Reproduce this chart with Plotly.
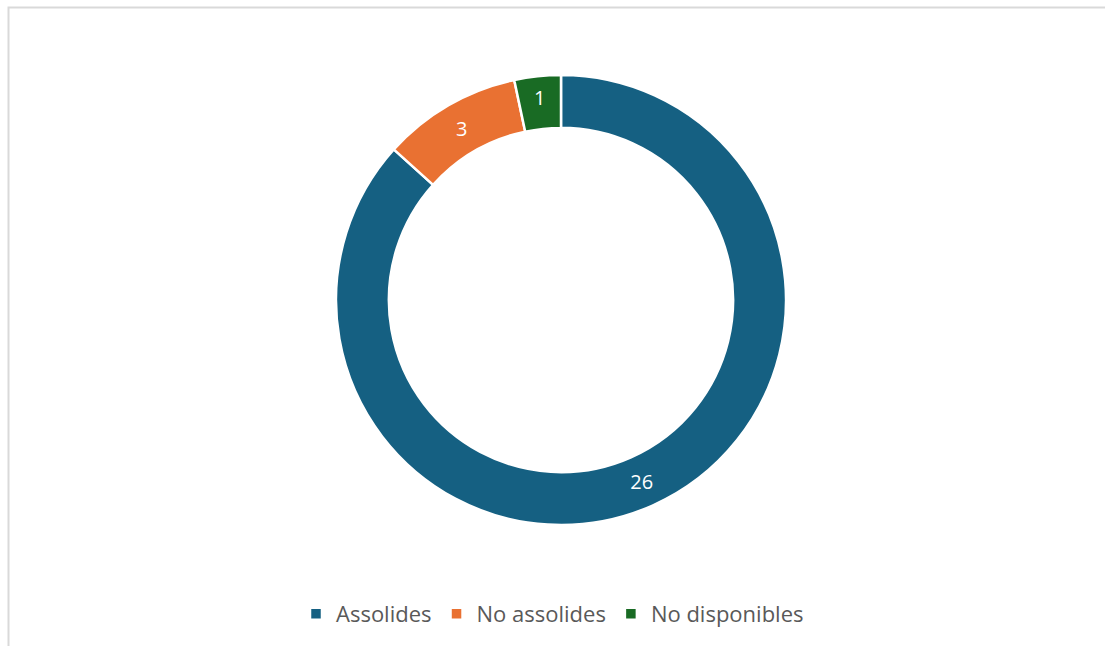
import plotly.graph_objects as go

categories = ["Assolides", "No assolides", "No disponibles"]
values = [26, 3, 1]
colors = ["#156082", "#E97132", "#196B24"]

W, H = 1105, 646
cx, cy, R = 561, 300, 225

fig = go.Figure(go.Pie(
    labels=categories,
    values=values,
    hole=0.765,
    sort=False,
    direction="clockwise",
    rotation=0,
    marker=dict(colors=colors, line=dict(color="white", width=2.5)),
    textinfo="value",
    textposition="inside",
    insidetextorientation="horizontal",
    textfont=dict(color="white", size=20, family="Open Sans"),
    domain=dict(x=[(cx - R) / W, (cx + R) / W], y=[(H - cy - R) / H, (H - cy + R) / H]),
    hoverinfo="label+value",
))

fig.update_layout(
    width=W, height=H,
    margin=dict(l=0, r=0, t=0, b=0),
    paper_bgcolor="white",
    plot_bgcolor="white",
    font=dict(family="Open Sans", color="#595959"),
    showlegend=True,
    legend=dict(
        orientation="h",
        x=0.5, xanchor="center",
        y=(H - 614) / H, yanchor="middle",
        font=dict(size=22, color="#595959", family="Open Sans"),
        traceorder="normal",
    ),
    shapes=[dict(
        type="rect", xref="paper", yref="paper",
        x0=8.5 / W, x1=1.02, y0=-0.02, y1=1 - 7.5 / H,
        line=dict(color="#d9d9d9", width=2),
        fillcolor="rgba(0,0,0,0)",
        layer="below",
    )],
)

fig.write_html(
    "out.html",
    config={"displayModeBar": False},
    post_script="document.body.style.margin='0';document.body.style.overflow='hidden';",
)
